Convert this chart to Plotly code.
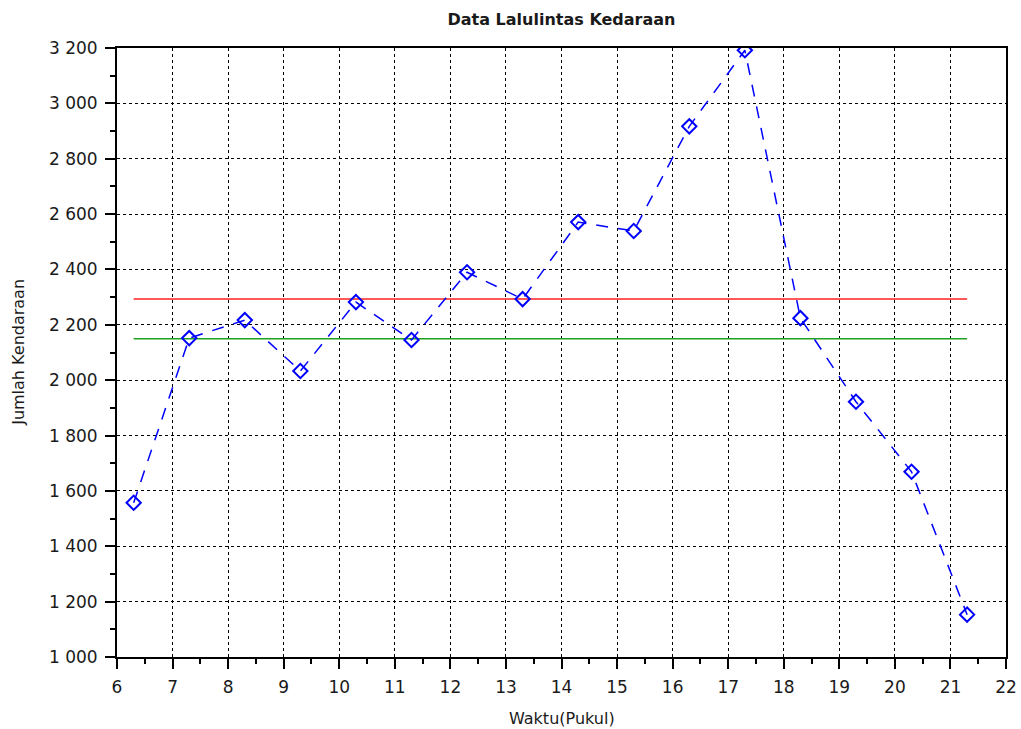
import plotly.graph_objects as go

jam = [6.3, 7.3, 8.3, 9.3, 10.3, 11.3, 12.3, 13.3, 14.3, 15.3, 16.3, 17.3, 18.3, 19.3, 20.3, 21.3]
jumlah = [1557, 2152, 2217, 2033, 2282, 2145, 2390, 2293, 2571, 2539, 2917, 3192, 2224, 1922, 1669, 1153]
garis_merah = 2293
garis_hijau = 2150

x_ticks = list(range(6, 23))
y_ticks = list(range(1000, 3201, 200))
y_labels = [f"{v:,}".replace(",", " ") for v in y_ticks]

FONT = "DejaVu Sans"
TXT = "#1a1a1a"

fig = go.Figure()
fig.add_trace(go.Scatter(x=[jam[0], jam[-1]], y=[garis_merah, garis_merah], mode="lines",
                         line=dict(color="#ff2020", width=1.5), showlegend=False))
fig.add_trace(go.Scatter(x=[jam[0], jam[-1]], y=[garis_hijau, garis_hijau], mode="lines",
                         line=dict(color="#20a020", width=1.5), showlegend=False))
fig.add_trace(go.Scatter(x=jam, y=jumlah, mode="lines+markers",
                         line=dict(color="#0000ff", width=1.5, dash="12px,10px"),
                         marker=dict(symbol="diamond-open", size=11, color="#0000ff", line=dict(width=2)),
                         showlegend=False))

axis_common = dict(showline=True, linecolor="black", linewidth=2, mirror=True,
                   ticks="outside", ticklen=10, tickwidth=2, tickcolor="black",
                   showgrid=True, gridcolor="black", gridwidth=1, griddash="dot",
                   zeroline=False, automargin=False, ticklabelstandoff=4,
                   tickfont=dict(family=FONT, size=17, color=TXT))

fig.update_xaxes(range=[6, 22], tickvals=x_ticks, ticktext=[str(v) for v in x_ticks],
                 minor=dict(dtick=0.5, ticks="outside", ticklen=5, tickwidth=2, tickcolor="black", showgrid=False),
                 **axis_common)
fig.update_yaxes(range=[1000, 3200], tickvals=y_ticks, ticktext=y_labels,
                 minor=dict(dtick=100, ticks="outside", ticklen=5, tickwidth=2, tickcolor="black", showgrid=False),
                 **axis_common)

fig.update_layout(
    width=1021, height=729,
    margin=dict(l=117, r=15, t=48, b=72),
    paper_bgcolor="white", plot_bgcolor="white",
    title=dict(text="Data Lalulintas Kedaraan", xref="paper", x=0.5, xanchor="center",
               yref="container", y=1 - 19 / 729, yanchor="middle",
               font=dict(family=FONT, size=16, color=TXT, weight="bold")),
    annotations=[
        dict(text="Waktu(Pukul)", xref="paper", yref="paper", x=0.5, y=-0.1017,
             xanchor="center", yanchor="middle", showarrow=False,
             font=dict(family=FONT, size=16, color=TXT)),
        dict(text="Jumlah Kendaraan", xref="paper", yref="paper", x=-0.111, y=0.5,
             xanchor="center", yanchor="middle", textangle=-90, showarrow=False,
             font=dict(family=FONT, size=16, color=TXT)),
    ],
)

fig.write_html("out.html", config={"displayModeBar": False},
               post_script="document.body.style.margin='0';document.body.style.overflow='hidden';")
